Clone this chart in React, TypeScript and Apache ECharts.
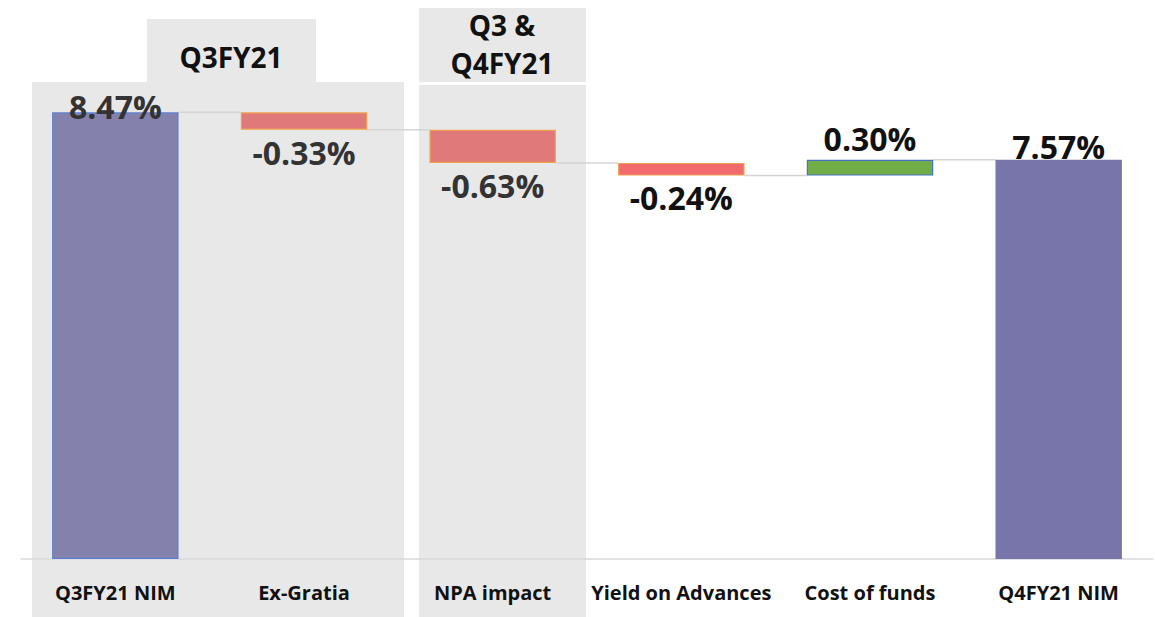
import React, { useEffect, useRef } from "react";
import * as echarts from "echarts";

const categories = ["Q3FY21 NIM", "Ex-Gratia", "NPA impact", "Yield on Advances", "Cost of funds", "Q4FY21 NIM"];
const changes = [8.47, -0.33, -0.63, -0.24, 0.3, 7.57];
const isTotal = [true, false, false, false, false, true];
const fills = ["#8482ac", "#e07a7a", "#e07a7a", "#f06a6e", "#70ad47", "#7775a9"];
const strokes = ["#5b7fd0", "#f0a04b", "#f0a04b", "#f0a04b", "#4472c4", "#7775a9"];
const labelColors = ["#333333", "#333333", "#333333", "#111111", "#111111", "#111111"];
const labelDistance = [-10, 7, 7, 6, 5, -3];
const periodHeaders = ["Q3FY21", "Q3 &", "Q4FY21"];

const FONT = "'Open Sans', 'Noto Sans', sans-serif";

export default function App() {
  const ref = useRef<HTMLDivElement>(null);
  useEffect(() => {
    if (!ref.current) return;
    const chart = echarts.init(ref.current, null, { renderer: "svg" });

    const base: number[] = [];
    const heights: number[] = [];
    const levels: number[][] = [];
    let running = 0;
    changes.forEach((v, i) => {
      if (isTotal[i]) {
        base.push(0);
        heights.push(v);
        running = v;
      } else if (v < 0) {
        base.push(running + v);
        heights.push(-v);
        running += v;
      } else {
        base.push(running);
        heights.push(v);
        running += v;
      }
      if (i < changes.length - 1) levels.push([i, running]);
    });

    const BAR = 0.67;
    const headerText = (text: string, x: number, y: number) => ({
      type: "text",
      z: -5,
      x,
      y,
      style: {
        text,
        fill: "#111111",
        font: `bold 28px ${FONT}`,
        lineHeight: 30,
        align: "center",
        verticalAlign: "middle",
      },
    });

    chart.setOption({
      animation: false,
      grid: { left: 21, right: 2, top: 31.6, bottom: 58, containLabel: false },
      xAxis: {
        type: "category",
        data: categories,
        axisLine: { show: true, lineStyle: { color: "#d9d9d9", width: 1.5 } },
        axisTick: { show: false },
        axisLabel: {
          color: "#111111",
          fontFamily: FONT,
          fontWeight: "bold",
          fontSize: 20,
          margin: 23,
          interval: 0,
        },
      },
      yAxis: {
        type: "value",
        min: 0,
        max: 10,
        show: false,
        splitLine: { show: false },
      },
      graphic: [
        { type: "rect", z: -10, shape: { x: 32, y: 82, width: 372, height: 540 }, style: { fill: "#e8e8e8" } },
        { type: "rect", z: -10, shape: { x: 147, y: 19, width: 169, height: 63 }, style: { fill: "#e8e8e8" } },
        { type: "rect", z: -10, shape: { x: 419, y: 85, width: 167, height: 540 }, style: { fill: "#e8e8e8" } },
        { type: "rect", z: -10, shape: { x: 419, y: 8, width: 167, height: 74 }, style: { fill: "#e8e8e8" } },
        headerText(periodHeaders[0], 231, 57),
        headerText(periodHeaders[1], 502, 25),
        headerText(periodHeaders[2], 502, 63),
      ],
      series: [
        {
          type: "bar",
          stack: "wf",
          barWidth: BAR * 100 + "%",
          silent: true,
          itemStyle: { color: "transparent" },
          emphasis: { disabled: true },
          data: base,
        },
        {
          type: "bar",
          stack: "wf",
          barWidth: BAR * 100 + "%",
          data: heights.map((h, i) => ({
            value: h,
            itemStyle: { color: fills[i], borderColor: strokes[i], borderWidth: 1.2 },
            label: {
              show: true,
              position: isTotal[i] || changes[i] > 0 ? "top" : "bottom",
              distance: labelDistance[i],
              formatter: changes[i].toFixed(2) + "%",
              color: labelColors[i],
              fontFamily: FONT,
              fontWeight: "bold",
              fontSize: 32,
              lineHeight: 32,
            },
          })),
        },
        {
          type: "custom",
          silent: true,
          z: 1,
          renderItem: (params: any, api: any) => {
            const i = api.value(0);
            const level = api.value(1);
            const a = api.coord([i, level]);
            const b = api.coord([i + 1, level]);
            const bw = api.size([1, 0])[0] * BAR;
            return {
              type: "line",
              shape: { x1: a[0] + bw / 2, y1: a[1], x2: b[0] - bw / 2, y2: b[1] },
              style: { stroke: "#d4d4d4", lineWidth: 1.5 },
            };
          },
          data: levels,
        },
      ],
    });
    return () => chart.dispose();
  }, []);
  return (
    <div
      ref={ref}
      style={{ position: "fixed", left: 0, top: 0, width: 1155, height: 617, background: "#ffffff" }}
    />
  );
}
